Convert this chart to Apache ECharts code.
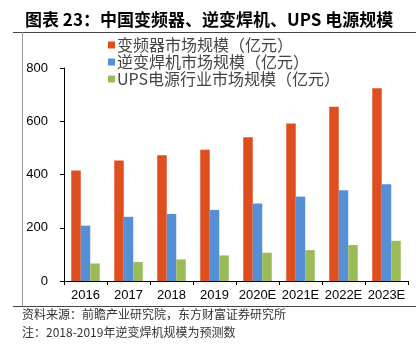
<!DOCTYPE html>
<html><head><meta charset="utf-8">
<script src="https://cdn.jsdelivr.net/npm/echarts@6/dist/echarts.min.js"></script>
<style>html,body{margin:0;padding:0;background:#fff}#c{width:416px;height:345px}</style>
</head><body><div id="c"></div>
<script>
var categories = ['2016','2017','2018','2019','2020E','2021E','2022E','2023E'];
var inverterValues = [415, 453, 472, 493, 540, 592, 654, 724];
var weldingValues = [208, 241, 252, 267, 291, 317, 341, 363];
var upsValues = [66, 71, 81, 96, 106, 116, 135, 151];
var seriesNames = ['变频器市场规模（亿元）','逆变焊机市场规模（亿元）','UPS电源行业市场规模（亿元）'];
var yTicks = [0, 200, 400, 600, 800];

var chart = echarts.init(document.getElementById('c'), null, {renderer:'canvas'});
var font = '"Noto Sans CJK SC", sans-serif';
chart.setOption({
  animation:false,
  textStyle:{fontFamily:font},
  grid:{left:64,right:8,top:68,bottom:64},
  legend:{
    orient:'vertical', left:103, top:32, itemWidth:7, itemHeight:7, itemGap:1,
    icon:'rect',
    textStyle:{fontSize:16, color:'#444', fontFamily:font, padding:[0,0,0,-3], lineHeight:15},
    data:seriesNames
  },
  xAxis:{
    type:'category', data:categories,
    axisLine:{lineStyle:{color:'#000',width:1}},
    axisTick:{show:true, length:4, lineStyle:{color:'#000'}},
    axisLabel:{color:'#000', fontSize:13, interval:0, fontFamily:'Arial, "Liberation Sans"', margin:8}
  },
  yAxis:{
    type:'value', min:yTicks[0], max:yTicks[yTicks.length-1], interval:200,
    axisLine:{show:true, lineStyle:{color:'#000',width:1}},
    axisTick:{show:true, length:4, lineStyle:{color:'#000'}},
    splitLine:{show:false},
    axisLabel:{color:'#000', fontSize:13, fontFamily:'Arial, "Liberation Sans"', margin:16}
  },
  series:[
    {name:seriesNames[0], type:'bar', data:inverterValues, barWidth:9.5, barGap:'0%', itemStyle:{color:'#DF4E1F'}},
    {name:seriesNames[1], type:'bar', data:weldingValues, barWidth:9.5, barGap:'0%', itemStyle:{color:'#5590D6'}},
    {name:seriesNames[2], type:'bar', data:upsValues, barWidth:9.5, barGap:'0%', itemStyle:{color:'#9BBB59'}}
  ],
  graphic:[
    {type:'text', left:25, top:11, style:{text:'图表 23：中国变频器、逆变焊机、UPS 电源规模', font:'bold 17px "Noto Sans CJK SC", sans-serif', fill:'#000'}},
    {type:'line', shape:{x1:13,y1:32.5,x2:416,y2:32.5}, style:{stroke:'#444',lineWidth:1}},
    {type:'line', shape:{x1:22.5,y1:32,x2:22.5,y2:306}, style:{stroke:'#999',lineWidth:1}},
    {type:'line', shape:{x1:13,y1:306.5,x2:416,y2:306.5}, style:{stroke:'#444',lineWidth:1}},
    {type:'text', left:22, top:308, style:{text:'资料来源：前瞻产业研究院，东方财富证券研究所', font:'12px "Noto Sans CJK SC", sans-serif', fill:'#333'}},
    {type:'text', left:22, top:326, style:{text:'注：2018-2019年逆变焊机规模为预测数', font:'12px "Noto Sans CJK SC", sans-serif', fill:'#333'}}
  ]
});
</script></body></html>
